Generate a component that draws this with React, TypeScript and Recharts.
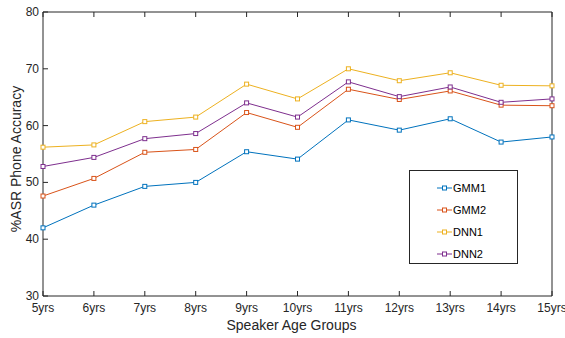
import React from "react"
import { LineChart, Line, XAxis, YAxis, Legend } from "recharts"

const ageGroups = ["5yrs", "6yrs", "7yrs", "8yrs", "9yrs", "10yrs", "11yrs", "12yrs", "13yrs", "14yrs", "15yrs"]
const gmm1 = [42.0, 46.0, 49.3, 50.0, 55.4, 54.1, 61.0, 59.2, 61.2, 57.1, 58.0]
const gmm2 = [47.6, 50.7, 55.3, 55.8, 62.3, 59.7, 66.4, 64.6, 66.1, 63.6, 63.5]
const dnn1 = [56.2, 56.6, 60.7, 61.5, 67.3, 64.7, 70.0, 67.9, 69.3, 67.1, 67.0]
const dnn2 = [52.8, 54.4, 57.7, 58.6, 64.0, 61.5, 67.7, 65.1, 66.8, 64.1, 64.7]
const yTicks = [30, 40, 50, 60, 70, 80]

const series = [
  { key: "GMM1", values: gmm1, color: "#0072BD" },
  { key: "GMM2", values: gmm2, color: "#D95319" },
  { key: "DNN1", values: dnn1, color: "#EDB120" },
  { key: "DNN2", values: dnn2, color: "#7E2F8E" },
]

const data = ageGroups.map((age, i) => {
  const row: Record<string, string | number> = { age }
  series.forEach((s) => (row[s.key] = s.values[i]))
  return row
})

const FONT = "'Liberation Sans', Arial, Helvetica, sans-serif"
const AXIS = "#262626"
const TICK_LEN = 5

const SquareDot = (color: string) => (props: any) => {
  const { cx, cy, index } = props
  if (cx == null || cy == null) return <g key={index} />
  return <rect key={index} x={cx - 2} y={cy - 2} width={4} height={4} fill="#fff" stroke={color} strokeWidth={1} />
}

const LeftTick = (props: any) => {
  const { x, y, payload } = props
  return (
    <g>
      <line x1={x} x2={x + TICK_LEN} y1={y} y2={y} stroke={AXIS} />
      <text x={x - 4} y={y} dy={4} textAnchor="end" fontSize={12} fontFamily={FONT} fill={AXIS}>
        {payload.value}
      </text>
    </g>
  )
}

const RightTick = (props: any) => {
  const { x, y } = props
  return <line x1={x} x2={x - TICK_LEN} y1={y} y2={y} stroke={AXIS} />
}

const BottomTick = (props: any) => {
  const { x, y, payload } = props
  return (
    <g>
      <line x1={x} x2={x} y1={y} y2={y - TICK_LEN} stroke={AXIS} />
      <text x={x} y={y + 16} textAnchor="middle" fontSize={12} fontFamily={FONT} fill={AXIS}>
        {payload.value}
      </text>
    </g>
  )
}

const TopTick = (props: any) => {
  const { x, y } = props
  return <line x1={x} x2={x} y1={y} y2={y + TICK_LEN} stroke={AXIS} />
}

const XTitle = (props: any) => {
  const { viewBox } = props
  const cx = viewBox.x + viewBox.width / 2 - 6
  return (
    <text x={cx} y={viewBox.y + 34} textAnchor="middle" fontSize={14} fontFamily={FONT} fill={AXIS}>
      Speaker Age Groups
    </text>
  )
}

const YTitle = (props: any) => {
  const { viewBox } = props
  const x = viewBox.x + 21
  const y = viewBox.y + viewBox.height / 2 + 5
  return (
    <text x={x} y={y} transform={`rotate(-90 ${x} ${y})`} textAnchor="middle" fontSize={14} fontFamily={FONT} fill={AXIS}>
      %ASR Phone Accuracy
    </text>
  )
}

const LegendBox = () => (
  <div
    style={{
      width: 109,
      height: 94,
      border: "1px solid #262626",
      background: "#fff",
      boxSizing: "border-box",
      paddingTop: 6,
      fontFamily: FONT,
      fontSize: 11,
      color: "#000",
    }}
  >
    {series.map((s) => (
      <div key={s.key} style={{ display: "flex", alignItems: "center", height: 22, paddingLeft: 27 }}>
        <svg width={16} height={8} style={{ marginRight: 0 }}>
          <line x1={0} x2={15} y1={4} y2={4} stroke={s.color} />
          <rect x={5.5} y={2} width={4} height={4} fill="#fff" stroke={s.color} />
        </svg>
        <span>{s.key}</span>
      </div>
    ))}
  </div>
)

export default function App() {
  return (
    <div style={{ position: "absolute", left: 0, top: 0, width: 565, height: 338, background: "#fff" }}>
      <LineChart width={565} height={338} data={data} margin={{ top: 0, right: 0, bottom: 0, left: 0 }}>
        <XAxis
          dataKey="age"
          height={42}
          tickSize={0}
          tickMargin={0}
          interval={0}
          tick={<BottomTick />}
          stroke={AXIS}
          tickLine={false}
          label={<XTitle />}
        />
        <XAxis
          xAxisId="top"
          dataKey="age"
          orientation="top"
          height={12}
          tickSize={0}
          tickMargin={0}
          interval={0}
          tick={<TopTick />}
          stroke={AXIS}
          tickLine={false}
        />
        <YAxis
          width={43}
          domain={[30, 80]}
          ticks={yTicks}
          tickSize={0}
          tickMargin={0}
          tick={<LeftTick />}
          stroke={AXIS}
          tickLine={false}
          label={<YTitle />}
        />
        <YAxis
          yAxisId="right"
          orientation="right"
          width={13}
          domain={[30, 80]}
          ticks={yTicks}
          tickSize={0}
          tickMargin={0}
          tick={<RightTick />}
          stroke={AXIS}
          tickLine={false}
        />
        <Legend
          layout="vertical"
          align="center"
          verticalAlign="middle"
          content={<LegendBox />}
          wrapperStyle={{ left: 409, top: 170, width: 109, height: 94 }}
        />
        {series.map((s) => (
          <Line
            key={s.key}
            dataKey={s.key}
            stroke={s.color}
            strokeWidth={1}
            dot={SquareDot(s.color)}
            activeDot={false}
            isAnimationActive={false}
            type="linear"
          />
        ))}
      </LineChart>
    </div>
  )
}
